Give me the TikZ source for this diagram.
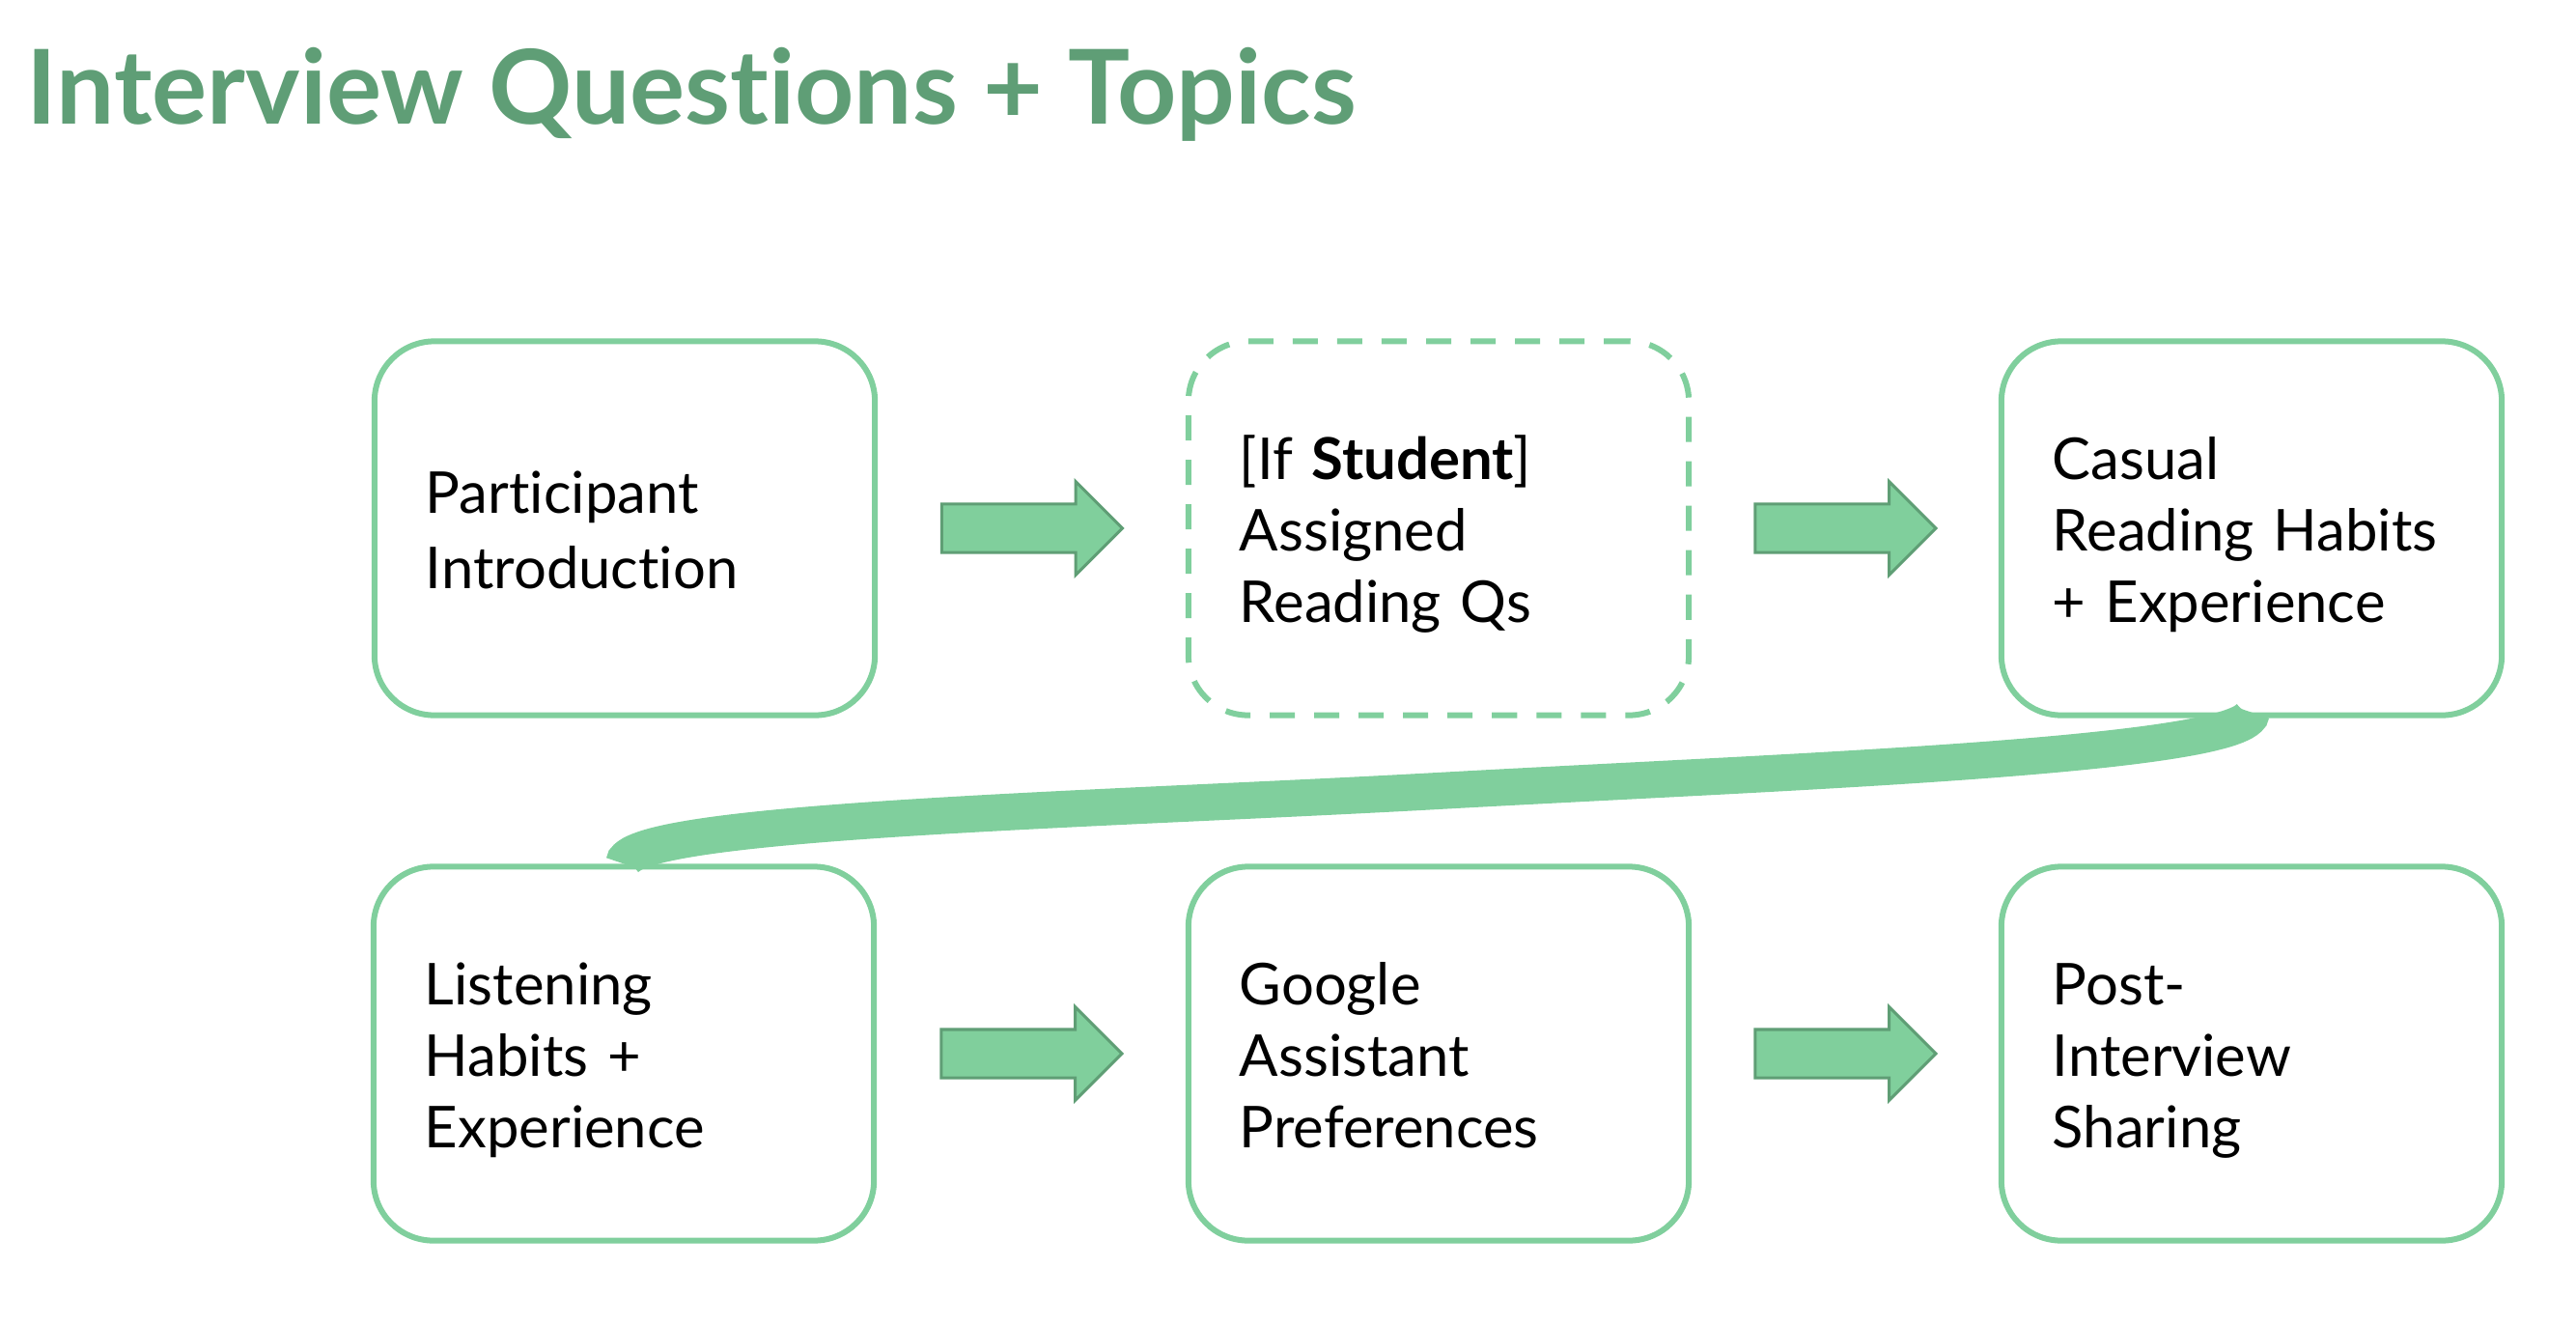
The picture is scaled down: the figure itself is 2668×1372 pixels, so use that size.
\documentclass[tikz,border=0pt]{standalone}
\usepackage{fontspec}
\setmainfont{Lato}[Ligatures=NoCommon]
\usepackage{xcolor}
\usepackage{tikz}
\usetikzlibrary{positioning,calc,shapes.arrows}
\definecolor{boxline}{HTML}{80CF9D}
\definecolor{arrowfill}{HTML}{80CF9C}
\definecolor{arrowline}{HTML}{5F9E75}
\definecolor{titlecol}{HTML}{5F9E76}
% line box of fixed height and depth, so that the text is centred by lines
\newcommand{\linestrut}{\rule[-0.135cm]{0pt}{0.74cm}}

\begin{document}
\begin{tikzpicture}[x=0.01cm,y=-0.01cm,
    stepbox/.style={draw=boxline,line width=0.06cm,rounded corners=0.62cm,minimum width=5.18cm,minimum height=3.87cm,text width=4.12cm,inner xsep=0.53cm,inner ysep=0pt,align=left,font=\fontsize{17}{21}\selectfont,execute at begin node=\linestrut,execute at end node=\linestrut},
    optbox/.style={stepbox,dash pattern=on 0.26cm off 0.2cm},
    blockarrow/.style={single arrow,draw=arrowline,fill=arrowfill,line width=0.03cm,inner xsep=0pt,inner ysep=0.235cm,minimum width=0pt,minimum height=1.87cm,single arrow head extend=0.235cm,single arrow tip angle=90,xshift=-0.12cm},
    linkband/.style={draw=boxline,line width=0.38cm},
    title/.style={anchor=base west,inner sep=0pt,font=\fontsize{30.4}{35}\selectfont\bfseries,text=titlecol}
]
\useasboundingbox (0,0) rectangle (2668,1372);
\node[title] (head) at (27,128) {Interview Questions + Topics};
% first row
\node[stepbox] (intro) at (647,547) {Participant\\Introduction};
\node[optbox] (assigned) at (1490,547) {[If~\textbf{Student}]\\Assigned\\Reading~Qs};
\node[stepbox] (casual) at (2332,547) {Casual\\Reading~Habits\\+~Experience};
% second row
\node[stepbox] (listening) at (646,1091) {Listening\\Habits~+\\Experience};
\node[stepbox] (assistant) at (1490,1091) {Google\\Assistant\\Preferences};
\node[stepbox] (sharing) at (2332,1091) {Post-\\Interview\\Sharing};
% arrows between the steps
\path (intro) -- node[blockarrow] (a1) {} (assigned);
\path (assigned) -- node[blockarrow] (a2) {} (casual);
\path (listening) -- node[blockarrow] (a3) {} (assistant);
\path (assistant) -- node[blockarrow] (a4) {} (sharing);
% wrap to the second row
\coordinate (bend) at ($(casual.south)!0.5!(listening.north)$);
\draw[linkband] ([yshift=0.06cm]casual.south) .. controls +(0,45) and +(360,-20) .. (bend)
    .. controls +(-360,20) and +(0,-45) .. (listening.north);
\end{tikzpicture}
\end{document}
